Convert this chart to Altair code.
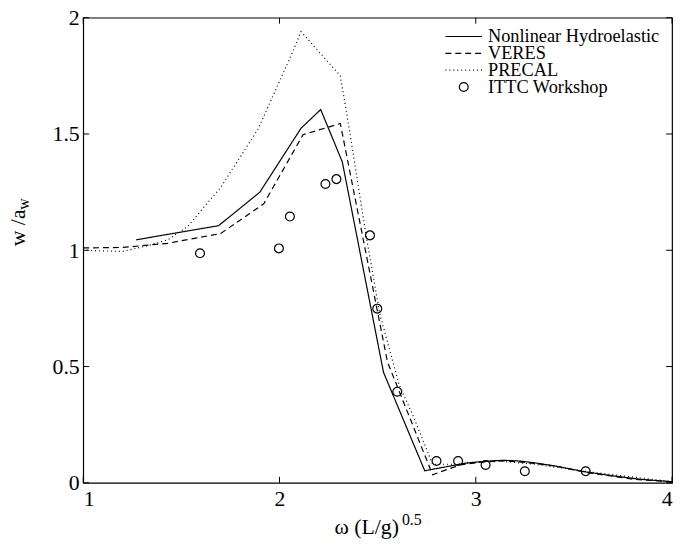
import altair as alt
import pandas as pd

# ---------------- data ----------------
nh_x = [1.27, 1.69, 1.90, 2.11, 2.21, 2.32, 2.53, 2.74, 2.95, 3.05, 3.14, 3.22, 3.30, 3.40, 3.56, 3.70, 3.84, 4.00]
nh_y = [1.045, 1.106, 1.25, 1.525, 1.605, 1.38, 0.475, 0.052, 0.085, 0.093, 0.097, 0.094, 0.086, 0.073, 0.047, 0.030, 0.015, 0.005]

veres_x = [1.00, 1.20, 1.43, 1.70, 1.92, 2.12, 2.31, 2.55, 2.78, 2.92, 3.02, 3.15, 3.30, 3.42, 3.56, 3.80, 4.00]
veres_y = [1.010, 1.012, 1.030, 1.072, 1.20, 1.497, 1.545, 0.52, 0.035, 0.077, 0.088, 0.095, 0.084, 0.070, 0.045, 0.016, 0.004]

precal_x = [1.00, 1.20, 1.33, 1.43, 1.53, 1.70, 1.89, 2.05, 2.11, 2.31, 2.35, 2.44, 2.51, 2.61, 2.68, 2.78, 2.90, 3.10, 3.30, 3.60, 4.00]
precal_y = [1.00, 0.995, 1.02, 1.045, 1.10, 1.27, 1.52, 1.82, 1.94, 1.75, 1.55, 1.07, 0.73, 0.42, 0.29, 0.08, 0.08, 0.095, 0.08, 0.045, 0.005]

ittc_x = [1.595, 1.997, 2.053, 2.234, 2.29, 2.461, 2.498, 2.60, 2.80, 2.91, 3.05, 3.25, 3.56]
ittc_y = [0.987, 1.008, 1.145, 1.285, 1.306, 1.064, 0.749, 0.392, 0.094, 0.094, 0.077, 0.050, 0.050]

x_ticks = [1, 2, 3, 4]
y_ticks = [0, 0.5, 1, 1.5, 2]

legend_labels = ["Nonlinear Hydroelastic", "VERES", "PRECAL", "ITTC Workshop"]
x_title_main = "\u03c9 (L/g)"
x_title_sup = "0.5"
y_title_main = "w /a"
y_title_sub = "w"

# ---------------- layout ----------------
W, H = 595, 470
FONT = "Liberation Serif"

xscale = alt.Scale(domain=[1, 4], nice=False, zero=False)
yscale = alt.Scale(domain=[0, 2], nice=False, zero=False)

xaxis = alt.Axis(values=x_ticks, ticks=False, domain=False, grid=False,
                 labelFont=FONT, labelFontSize=22, labelColor="black",
                 labelPadding=6, labelExpr="'' + datum.value", title=None)
yaxis = alt.Axis(values=y_ticks, ticks=False, domain=False, grid=False,
                 labelFont=FONT, labelFontSize=22, labelColor="black",
                 labelPadding=4, labelExpr="'' + datum.value", title=None)


def X(field):
    return alt.X(field, scale=xscale, axis=xaxis)


def Y(field):
    return alt.Y(field, scale=yscale, axis=yaxis)


def line_layer(xs, ys, dash):
    df = pd.DataFrame({"x": xs, "y": ys})
    return alt.Chart(df).mark_line(color="black", strokeWidth=1.2, strokeDash=dash).encode(
        x=X("x:Q"), y=Y("y:Q"), order=alt.Order("x:Q"),
    )


solid = line_layer(nh_x, nh_y, [1, 0])
dashed = line_layer(veres_x, veres_y, [6, 4])
dotted = line_layer(precal_x, precal_y, [1, 3])

pts = alt.Chart(pd.DataFrame({"x": ittc_x, "y": ittc_y})).mark_point(
    shape="circle", size=80, filled=False, color="black", strokeWidth=1.2, opacity=1
).encode(x=X("x:Q"), y=Y("y:Q"))

# inward tick marks on all four sides
xt = alt.Chart(pd.DataFrame({"v": x_ticks}))
yt = alt.Chart(pd.DataFrame({"v": y_ticks}))
TL = 6
ticks = [
    xt.mark_rule(color="black", strokeWidth=1).encode(
        x=X("v:Q"), y=alt.value(H), y2=alt.value(H - TL)),
    xt.mark_rule(color="black", strokeWidth=1).encode(
        x=X("v:Q"), y=alt.value(0), y2=alt.value(TL)),
    yt.mark_rule(color="black", strokeWidth=1).encode(
        y=Y("v:Q"), x=alt.value(0), x2=alt.value(TL)),
    yt.mark_rule(color="black", strokeWidth=1).encode(
        y=Y("v:Q"), x=alt.value(W), x2=alt.value(W - TL)),
]

one = alt.Chart(pd.DataFrame({"a": [0]}))

# axis titles (with super/subscripts)
titles = [
    one.mark_text(font=FONT, fontSize=22, align="right", baseline="alphabetic", color="black").encode(
        x=alt.value(319), y=alt.value(522), text=alt.value(x_title_main)),
    one.mark_text(font=FONT, fontSize=16, align="left", baseline="alphabetic", color="black").encode(
        x=alt.value(322), y=alt.value(513), text=alt.value(x_title_sup)),
    one.mark_text(font=FONT, fontSize=22, align="left", baseline="alphabetic", angle=270, color="black").encode(
        x=alt.value(-59), y=alt.value(231), text=alt.value(y_title_main)),
    one.mark_text(font=FONT, fontSize=16, align="left", baseline="alphabetic", angle=270, color="black").encode(
        x=alt.value(-55), y=alt.value(194), text=alt.value(y_title_sub)),
]

# legend (top-right, no box)
row_y = [19, 36, 53, 70]
sx0, sx1, tx = 366, 403, 409
legend = [
    one.mark_rule(color="black", strokeWidth=1.2).encode(
        x=alt.value(sx0), x2=alt.value(sx1), y=alt.value(row_y[0])),
    one.mark_rule(color="black", strokeWidth=1.2, strokeDash=[6, 4]).encode(
        x=alt.value(sx0), x2=alt.value(sx1), y=alt.value(row_y[1])),
    one.mark_rule(color="black", strokeWidth=1.2, strokeDash=[1, 3]).encode(
        x=alt.value(sx0), x2=alt.value(sx1), y=alt.value(row_y[2])),
    one.mark_point(shape="circle", size=80, filled=False, color="black", strokeWidth=1.2, opacity=1).encode(
        x=alt.value((sx0 + sx1) / 2), y=alt.value(row_y[3])),
]
for lab, ry in zip(legend_labels, row_y):
    legend.append(one.mark_text(font=FONT, fontSize=18.5, align="left", baseline="middle", color="black").encode(
        x=alt.value(tx), y=alt.value(ry), text=alt.value(lab)))

chart = alt.layer(solid, dashed, dotted, pts, *ticks, *titles, *legend).properties(
    width=W, height=H,
    autosize=alt.AutoSizeParams(type="none"),
    padding={"left": 76, "top": 7, "right": 5, "bottom": 60},
    background="white",
).configure_view(stroke="black", strokeWidth=1.2)

chart.save("out.html", embed_options={"renderer": "svg", "actions": False})
